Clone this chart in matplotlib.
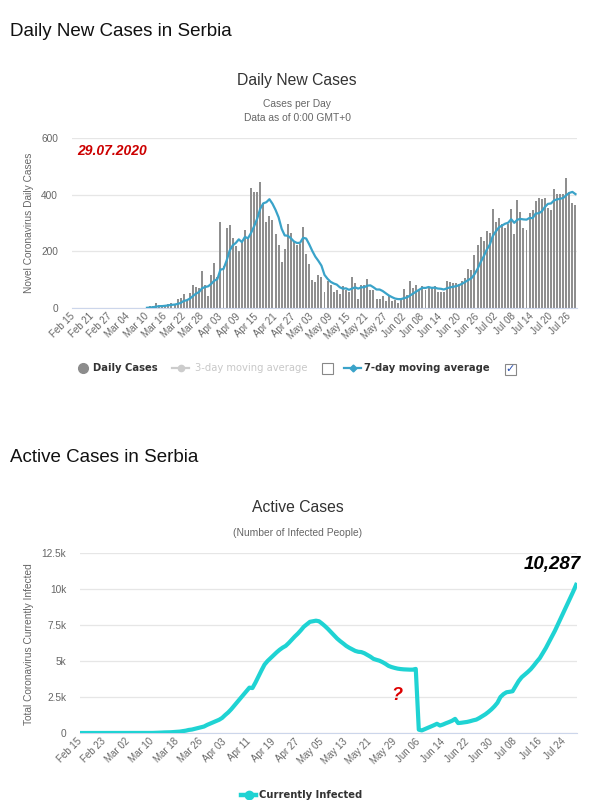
import numpy as np
import pandas as pd
import matplotlib
matplotlib.use("Agg")
import matplotlib.pyplot as plt
from matplotlib.patches import Rectangle

# ---------------- data ----------------
# day index 0 = Feb 15 2020 ... index 164 = Jul 28 2020
daily_cases = (
    [0] * 20 +
    [1, 0, 0, 1, 3, 7, 7, 16, 11, 2,
     9, 15, 17, 14, 32, 36, 51, 27, 54, 81,
     73, 71, 131, 82, 44, 115, 160, 111, 305, 148,
     284, 292, 247, 219, 201, 238, 275, 250, 424, 411,
     408, 445, 372, 304, 324, 312, 260, 224, 162, 207,
     296, 263, 233, 222, 227, 285] +
    [191, 154, 99, 91, 117, 110, 56, 94, 80, 58, 64, 50, 76, 64, 57] +
    [111, 88, 33, 81, 80, 102, 64, 64, 33, 33,
     44, 26, 47, 23, 29, 18, 32, 68, 47, 94,
     70, 80, 64, 76, 64, 70, 73, 76, 58, 58,
     58, 94, 91, 90, 90, 84, 94, 105, 138, 135,
     187, 222, 249, 237, 271, 263, 351, 302, 319, 295,
     281, 295, 351, 261, 380, 338, 283, 275, 337, 345,
     376, 387, 385, 390, 353, 347, 419, 404, 401, 404,
     460, 408, 372, 365]
)
ma_start = 24  # 7-day moving average is drawn from Mar 10

active_cases = (
    [0] * 20 +
    [1, 1, 1, 2, 5, 12, 19, 30, 41, 43,
     52, 66, 83, 97, 129, 164, 214, 240, 292, 345,
     400, 450, 560, 650, 740, 830, 920, 1050, 1250, 1430,
     1650, 1900, 2150, 2400, 2650, 2900, 3150, 3120, 3500, 3930,
     4350, 4750, 5000, 5200, 5400, 5600, 5780, 5930, 6050, 6250,
     6480, 6700, 6900, 7130, 7380, 7550, 7720, 7760, 7800, 7760,
     7600, 7420, 7220, 7000, 6780, 6560, 6380, 6220, 6050, 5920,
     5810, 5700, 5640, 5620, 5540, 5420, 5300, 5150, 5080, 5020,
     4920, 4800, 4660, 4580, 4520, 4470, 4440, 4420, 4410, 4400,
     4400, 4450, 230, 180, 270, 360, 450, 540, 640, 520,
     590, 680, 760, 850, 980, 690, 710, 740, 770, 820,
     880, 930, 1040, 1170, 1300, 1460, 1640, 1850, 2100, 2500,
     2700, 2830, 2860, 2900, 3250, 3600, 3870, 4050, 4230, 4430,
     4680, 4950, 5200, 5550, 5900, 6300, 6700, 7100, 7550, 8000,
     8450, 8900, 9350, 9800, 10287]
)
assert len(daily_cases) == 165 and len(active_cases) == 165

top_tick_labels = ["Feb 15", "Feb 21", "Feb 27", "Mar 04", "Mar 10", "Mar 16", "Mar 22",
                   "Mar 28", "Apr 03", "Apr 09", "Apr 15", "Apr 21", "Apr 27", "May 03",
                   "May 09", "May 15", "May 21", "May 27", "Jun 02", "Jun 08", "Jun 14",
                   "Jun 20", "Jun 26", "Jul 02", "Jul 08", "Jul 14", "Jul 20", "Jul 26"]
bottom_tick_labels = ["Feb 15", "Feb 23", "Mar 02", "Mar 10", "Mar 18", "Mar 26", "Apr 03",
                      "Apr 11", "Apr 19", "Apr 27", "May 05", "May 13", "May 21", "May 29",
                      "Jun 06", "Jun 14", "Jun 22", "Jun 30", "Jul 08", "Jul 16", "Jul 24"]
top_yticks = [0, 200, 400, 600]
bottom_yticks = [0, 2500, 5000, 7500, 10000, 12500]
bottom_ytick_labels = ["0", "2.5k", "5k", "7.5k", "10k", "12.5k"]

# ---------------- styling ----------------
W, H = 603, 800
GRID = "#e6e6e6"
AXLINE = "#ccd6eb"
LABEL = "#666666"
BAR = "#8f8f8f"
MA_COL = "#3aa3c9"
CYAN = "#1fd3d3"
SANS = "Liberation Sans"

fig = plt.figure(figsize=(W / 100, H / 100), dpi=100)
fig.patch.set_facecolor("white")


def px_axes(left, top, right, bottom):
    return fig.add_axes([left / W, 1 - bottom / H, (right - left) / W, (bottom - top) / H])


def style(ax):
    for s in ("top", "right", "left"):
        ax.spines[s].set_visible(False)
    ax.spines["bottom"].set_color(AXLINE)
    ax.grid(axis="y", color=GRID, lw=0.9)
    ax.set_axisbelow(True)
    ax.tick_params(axis="y", length=0, pad=10, labelsize=7.3, labelcolor=LABEL)
    ax.tick_params(axis="x", length=0, pad=5, labelsize=7, labelcolor=LABEL)
    for t in ax.get_yticklabels() + ax.get_xticklabels():
        t.set_fontfamily(SANS)


# ---------------- top chart ----------------
x = np.arange(len(daily_cases))
ma = pd.Series(daily_cases, dtype=float).rolling(7, min_periods=1).mean().to_numpy()

ax1 = px_axes(72, 138, 577, 308)
ax1.bar(x, daily_cases, width=0.65, color=BAR, edgecolor="none", antialiased=False,
        zorder=2)
ax1.plot(x[ma_start:], ma[ma_start:], color=MA_COL, lw=1.6, zorder=3)
ax1.set_xlim(-0.5, len(x) - 0.5)
ax1.set_ylim(0, 600)
ax1.set_yticks(top_yticks)
ax1.set_xticks(np.arange(0, len(x), 6))
ax1.set_xticklabels(top_tick_labels, rotation=45, ha="right", va="center",
                    rotation_mode="anchor")
style(ax1)

# ---------------- bottom chart ----------------
ax2 = px_axes(80, 553, 577, 733)
ax2.plot(x, active_cases, color=CYAN, lw=3.0, solid_joinstyle="round", zorder=3)
ax2.set_xlim(0, len(x) - 0.7)
ax2.set_ylim(0, 12500)
ax2.set_yticks(bottom_yticks)
ax2.set_yticklabels(bottom_ytick_labels)
ax2.set_xticks(np.arange(0, len(x), 8))
ax2.set_xticklabels(bottom_tick_labels, rotation=45, ha="right", va="center",
                    rotation_mode="anchor")
style(ax2)
ax2.annotate(f"{active_cases[-1]:,}", xy=(x[-1], active_cases[-1]),
             xytext=(-17.5, 14.5), textcoords="offset points", ha="center", va="center",
             fontsize=13.5, fontweight="bold", fontstyle="italic", family=SANS,
             color="black", annotation_clip=False)

# ---------------- overlay texts / legends ----------------
ov = fig.add_axes([0, 0, 1, 1], zorder=5)
ov.set_xlim(0, W)
ov.set_ylim(H, 0)
ov.axis("off")
ov.patch.set_alpha(0)

ov.text(10, 31, "Daily New Cases in Serbia", fontsize=13.5, family=SANS, va="center",
        color="#111111")
ov.text(297, 80, "Daily New Cases", fontsize=11.3, family=SANS, ha="center", va="center",
        color="#333333")
ov.text(297, 104, "Cases per Day", fontsize=7.4, family=SANS, ha="center", va="center",
        color=LABEL)
ov.text(297, 118, "Data as of 0:00 GMT+0", fontsize=7.4, family=SANS, ha="center",
        va="center", color=LABEL)
ov.text(29, 223, "Novel Coronavirus Daily Cases", rotation=90, fontsize=7.3, family=SANS,
        ha="center", va="center", color=LABEL)
ov.text(77, 151, "29.07.2020", fontsize=10, family=SANS, fontweight="bold",
        fontstyle="italic", color="#cc0000", va="center")

# legend (top)
ly = 368
ov.plot([83], [ly], "o", ms=7, color="#8c8c8c")
ov.text(93, ly, "Daily Cases", fontsize=7.2, fontweight="bold", color="#333333",
        va="center", family="DejaVu Sans")
ov.plot([172, 189], [ly, ly], color="#cccccc", lw=1.6)
ov.plot([180.5], [ly], "o", ms=4.5, color="#cccccc")
ov.text(195, ly, "3-day moving average", fontsize=7.2, color="#c8c8c8",
        va="center", family="DejaVu Sans")
ov.add_patch(Rectangle((322, ly - 5.5), 11, 11, facecolor="white", edgecolor="#888888",
                       lw=0.8))
ov.plot([344, 361], [ly, ly], color=MA_COL, lw=1.6)
ov.plot([352.5], [ly], "D", ms=3.5, color=MA_COL)
ov.text(364, ly, "7-day moving average", fontsize=7.2, fontweight="bold", color="#333333",
        va="center", family="DejaVu Sans")
ov.add_patch(Rectangle((505, ly - 4.5), 11, 11, facecolor="white", edgecolor="#888888",
                       lw=0.8))
ov.text(510.5, ly + 1, "\u2713", fontsize=8, color="#2a4fb0", ha="center", va="center",
        family="DejaVu Sans")

# bottom chart texts
ov.text(10, 458, "Active Cases in Serbia", fontsize=13.5, family=SANS, va="center",
        color="#111111")
ov.text(298, 508, "Active Cases", fontsize=11.3, family=SANS, ha="center", va="center",
        color="#333333")
ov.text(298, 533, "(Number of Infected People)", fontsize=7.4, family=SANS, ha="center",
        va="center", color=LABEL)
ov.text(29, 644, "Total Coronavirus Currently Infected", rotation=90, fontsize=7.3,
        family=SANS, ha="center", va="center", color=LABEL)
ov.text(397, 695, "?", fontsize=13, fontweight="bold", fontstyle="italic", family=SANS,
        color="#dd0000", ha="center", va="center")

# legend (bottom)
by = 795
ov.plot([241, 256], [by, by], color=CYAN, lw=3.2)
ov.plot([248.5], [by], "o", ms=6, color=CYAN)
ov.text(259, by, "Currently Infected", fontsize=7.2, fontweight="bold", color="#333333",
        va="center", family="DejaVu Sans")

fig.savefig("out.png", dpi=100, facecolor="white")
